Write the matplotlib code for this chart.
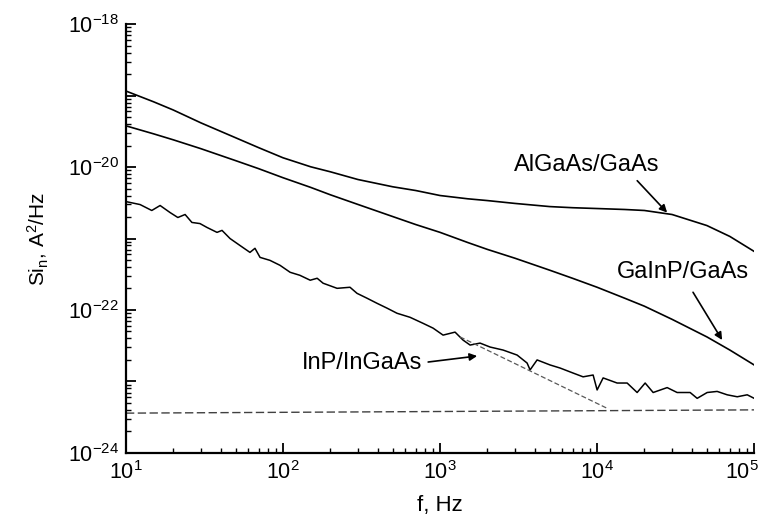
import numpy as np
import matplotlib
matplotlib.use("Agg")
import matplotlib.pyplot as plt
import matplotlib.transforms as mtransforms
from matplotlib.ticker import LogLocator, NullFormatter

plt.rcParams['font.family'] = ['Liberation Sans', 'DejaVu Sans']
plt.rcParams['mathtext.fontset'] = 'custom'
plt.rcParams['mathtext.rm'] = 'Liberation Sans'
plt.rcParams['mathtext.it'] = 'Liberation Sans:italic'

# frequency grid for the two smooth curves (Hz)
f_smooth = [10, 15, 20, 30, 50, 70, 100, 150, 200, 300, 500, 700, 1000, 1500,
            2000, 3000, 5000, 7000, 1e4, 1.5e4, 2e4, 3e4, 5e4, 7e4, 1e5]

# AlGaAs/GaAs noise spectral density (A^2/Hz)
algaas = [1.16e-19, 8.2e-20, 6.3e-20, 4.16e-20, 2.57e-20, 1.87e-20, 1.35e-20,
          1.01e-20, 8.6e-21, 6.7e-21, 5.3e-21, 4.7e-21, 4.0e-21, 3.6e-21, 3.4e-21,
          3.1e-21, 2.8e-21, 2.7e-21, 2.63e-21, 2.55e-21, 2.47e-21, 2.17e-21,
          1.52e-21, 1.07e-21, 6.6e-22]

# GaInP/GaAs
gainp = [3.78e-20, 2.92e-20, 2.41e-20, 1.81e-20, 1.23e-20, 9.5e-21, 7.1e-21,
         5.2e-21, 4.1e-21, 3.0e-21, 2.03e-21, 1.57e-21, 1.22e-21, 8.8e-22, 7.05e-22,
         5.3e-22, 3.6e-22, 2.77e-22, 2.08e-22, 1.46e-22, 1.13e-22, 7.4e-23, 4.2e-23,
         2.75e-23, 1.7e-23]

# InP/InGaAs (noisier, read on a denser grid)
f_inp = [10, 12.3, 14.6, 16.5, 19.1, 21.4, 23.8, 26.3, 29.6, 32.8, 38.0, 40.9,
         46.0, 53.2, 61.6, 66.3, 71.4, 82.6, 95.7, 111, 128, 149, 165, 180, 221,
         267, 296, 343, 397, 460, 532, 644, 780, 903, 1045, 1246, 1401, 1553, 1798,
         2082, 2519, 3094, 3582, 3743, 4148, 5020, 5811, 7033, 8142, 9430, 10000,
         10920, 13410, 15530, 17980, 20220, 22740, 27920, 32320, 39110, 43350,
         50200, 58100, 67300, 78000, 90300, 100000]
inp = [3.29e-21, 2.99e-21, 2.47e-21, 2.90e-21, 2.31e-21, 1.97e-21, 2.17e-21,
       1.68e-21, 1.62e-21, 1.43e-21, 1.22e-21, 1.30e-21, 1.00e-21, 8.0e-22, 6.4e-22,
       7.3e-22, 5.45e-22, 4.95e-22, 4.22e-22, 3.37e-22, 3.06e-22, 2.61e-22, 2.78e-22,
       2.37e-22, 2.01e-22, 2.08e-22, 1.71e-22, 1.46e-22, 1.24e-22, 1.06e-22, 9.0e-23,
       7.9e-23, 6.5e-23, 5.57e-23, 4.45e-23, 4.9e-23, 3.79e-23, 3.23e-23, 3.44e-23,
       3.03e-23, 2.75e-23, 2.34e-23, 1.81e-23, 1.45e-23, 2.0e-23, 1.70e-23, 1.54e-23,
       1.31e-23, 1.16e-23, 1.23e-23, 7.6e-24, 1.12e-23, 9.5e-24, 9.5e-24, 7.0e-24,
       9.5e-24, 7.0e-24, 8.2e-24, 7.0e-24, 7.0e-24, 5.8e-24, 7.0e-24, 7.25e-24,
       6.5e-24, 6.1e-24, 6.5e-24, 5.8e-24]

# 1/f fit line for InP/InGaAs and the setup noise floor
fit_f = [1340, 11600]
fit_s = [4.2e-23, 4.2e-24]
floor_f = [10, 1e5]
floor_s = [3.6e-24, 4.0e-24]

# tick positions / labels
xticks = [1e1, 1e2, 1e3, 1e4, 1e5]
xticklabels = [r'$10^{1}$', r'$10^{2}$', r'$10^{3}$', r'$10^{4}$', r'$10^{5}$']
yticks = [1e-24, 1e-23, 1e-22, 1e-21, 1e-20, 1e-19, 1e-18]
yticklabels = [r'$10^{-24}$', '', r'$10^{-22}$', '', r'$10^{-20}$', '', r'$10^{-18}$']

fig = plt.figure(figsize=(7.68, 5.26), dpi=100)
ax = fig.add_axes([0.164, 0.139, 0.818, 0.815])

ax.plot(f_smooth, algaas, color='black', lw=1.2)
ax.plot(f_smooth, gainp, color='black', lw=1.2)
ax.plot(f_inp, inp, color='black', lw=1.1)
ax.plot(fit_f, fit_s, color='0.35', lw=0.9, dashes=(4, 2))
ax.plot(floor_f, floor_s, color='0.25', lw=1.0, dashes=(6, 2.5))

ax.set_xscale('log')
ax.set_yscale('log')
ax.set_xlim(10, 1e5)
ax.set_ylim(1e-24, 1e-18)

for s in ['top', 'right']:
    ax.spines[s].set_visible(False)
for s in ['left', 'bottom']:
    ax.spines[s].set_linewidth(1.6)

ax.set_xticks(xticks)
ax.set_xticklabels(xticklabels)
ax.set_yticks(yticks)
ax.set_yticklabels(yticklabels)
ax.xaxis.set_minor_locator(LogLocator(base=10, subs=np.arange(2, 10), numticks=20))
ax.yaxis.set_minor_locator(LogLocator(base=10, subs=np.arange(2, 10), numticks=20))
ax.xaxis.set_minor_formatter(NullFormatter())
ax.yaxis.set_minor_formatter(NullFormatter())

ax.tick_params(which='major', direction='in', length=7, width=1.3, labelsize=15.5)
ax.tick_params(which='minor', direction='in', length=3.5, width=1.0)
ax.tick_params(axis='x', which='major', pad=6)
ax.tick_params(axis='y', which='major', pad=5)

# last x label pulled in a little so it stays on the page, like the original
last = ax.get_xticklabels()[-1]
last.set_transform(last.get_transform() + mtransforms.ScaledTranslation(-0.12, 0, fig.dpi_scale_trans))

ax.set_xlabel('f, Hz', fontsize=16, labelpad=8)
ax.set_ylabel(r'Si$_\mathrm{n}$, A$^2$/Hz', fontsize=15, labelpad=12)

arrow = dict(arrowstyle='-|>', color='black', lw=1.2, mutation_scale=11, shrinkA=0, shrinkB=0)
ax.text(8630, 1.08e-20, 'AlGaAs/GaAs', fontsize=17, ha='center', va='center')
ax.annotate('', xy=(2.79e4, 2.31e-21), xytext=(1.8e4, 6.45e-21), arrowprops=arrow)
ax.text(35300, 3.36e-22, 'GaInP/GaAs', fontsize=17, ha='center', va='center')
ax.annotate('', xy=(62500, 3.8e-23), xytext=(40800, 1.77e-22), arrowprops=arrow)
ax.text(318, 1.81e-23, 'InP/InGaAs', fontsize=17, ha='center', va='center')
ax.annotate('', xy=(1722, 2.27e-23), xytext=(840, 1.87e-23), arrowprops=arrow)

fig.savefig('out.png', dpi=100)
